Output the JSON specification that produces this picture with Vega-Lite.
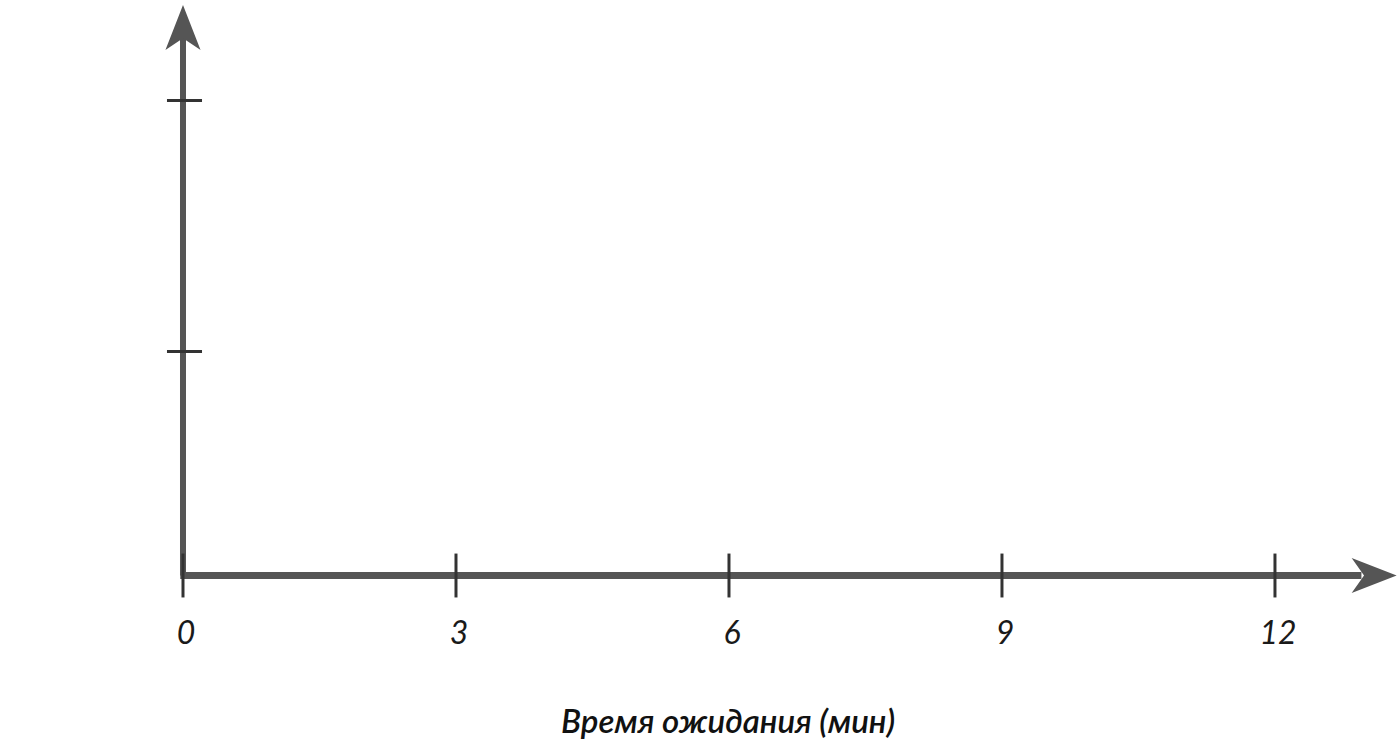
{
  "$schema": "https://vega.github.io/schema/vega-lite/v6.json",
  "width": 1398,
  "height": 752,
  "padding": 0,
  "autosize": "none",
  "background": "white",
  "config": {"view": {"stroke": null}},
  "datasets": {
    "ticksX": [{"t": 0}, {"t": 3}, {"t": 6}, {"t": 9}, {"t": 12}],
    "ticksY": [{"v": 10}, {"v": 21.2}],
    "one": [{"label": "Время ожидания (мин)"}]
  },
  "layer": [
    {
      "data": {"name": "one"},
      "mark": {"type": "rule", "color": "#555555", "strokeWidth": 6},
      "encoding": {
        "x": {"datum": 0, "type": "quantitative", "axis": null, "scale": {"domain": [-2.011, 13.352], "nice": false, "zero": false}},
        "y": {"datum": 0, "type": "quantitative", "axis": null, "scale": {"domain": [-7.879, 25.692], "nice": false, "zero": false}},
        "y2": {"datum": 24.2}
      }
    },
    {
      "data": {"name": "one"},
      "mark": {"type": "rule", "color": "#555555", "strokeWidth": 7},
      "encoding": {
        "x": {"datum": -0.03, "type": "quantitative", "axis": null, "scale": {"domain": [-2.011, 13.352], "nice": false, "zero": false}},
        "x2": {"datum": 12.95},
        "y": {"datum": 0, "type": "quantitative", "axis": null, "scale": {"domain": [-7.879, 25.692], "nice": false, "zero": false}}
      }
    },
    {
      "data": {"name": "one"},
      "mark": {"type": "point", "filled": true, "opacity": 1, "color": "#555555", "size": 2025,
               "shape": "M0,-1 L0.78,1 L0,0.47 L-0.78,1 Z"},
      "encoding": {
        "x": {"datum": 0, "type": "quantitative", "axis": null, "scale": {"domain": [-2.011, 13.352], "nice": false, "zero": false}},
        "y": {"datum": 24.46, "type": "quantitative", "axis": null, "scale": {"domain": [-7.879, 25.692], "nice": false, "zero": false}}
      }
    },
    {
      "data": {"name": "one"},
      "mark": {"type": "point", "filled": true, "opacity": 1, "color": "#555555", "size": 2025,
               "shape": "M1,0 L-1,-0.78 L-0.45,0 L-1,0.78 Z"},
      "encoding": {
        "x": {"datum": 13.09, "type": "quantitative", "axis": null, "scale": {"domain": [-2.011, 13.352], "nice": false, "zero": false}},
        "y": {"datum": 0, "type": "quantitative", "axis": null, "scale": {"domain": [-7.879, 25.692], "nice": false, "zero": false}}
      }
    },
    {
      "data": {"name": "ticksX"},
      "mark": {"type": "rule", "color": "#333333", "strokeWidth": 3},
      "encoding": {
        "x": {"field": "t", "type": "quantitative", "axis": null, "scale": {"domain": [-2.011, 13.352], "nice": false, "zero": false}},
        "y": {"datum": -0.98, "type": "quantitative", "axis": null, "scale": {"domain": [-7.879, 25.692], "nice": false, "zero": false}},
        "y2": {"datum": 0.98}
      }
    },
    {
      "data": {"name": "ticksY"},
      "mark": {"type": "rule", "color": "#333333", "strokeWidth": 3},
      "encoding": {
        "y": {"field": "v", "type": "quantitative", "axis": null, "scale": {"domain": [-7.879, 25.692], "nice": false, "zero": false}},
        "x": {"datum": -0.176, "type": "quantitative", "axis": null, "scale": {"domain": [-2.011, 13.352], "nice": false, "zero": false}},
        "x2": {"datum": 0.209}
      }
    },
    {
      "data": {"name": "ticksX"},
      "mark": {"type": "text", "font": "Lato", "fontStyle": "italic", "fontSize": 32, "color": "#1a1a1a", "baseline": "middle", "align": "center", "dx": 3},
      "encoding": {
        "x": {"field": "t", "type": "quantitative", "axis": null, "scale": {"domain": [-2.011, 13.352], "nice": false, "zero": false}},
        "y": {"datum": -2.6, "type": "quantitative", "axis": null, "scale": {"domain": [-7.879, 25.692], "nice": false, "zero": false}},
        "text": {"field": "t", "type": "quantitative"}
      }
    },
    {
      "data": {"name": "one"},
      "mark": {"type": "text", "font": "Lato", "fontStyle": "italic", "fontWeight": 600, "fontSize": 33, "color": "#111111", "baseline": "middle", "align": "center"},
      "encoding": {
        "x": {"datum": 5.99, "type": "quantitative", "axis": null, "scale": {"domain": [-2.011, 13.352], "nice": false, "zero": false}},
        "y": {"datum": -6.58, "type": "quantitative", "axis": null, "scale": {"domain": [-7.879, 25.692], "nice": false, "zero": false}},
        "text": {"field": "label", "type": "nominal"}
      }
    }
  ]
}
